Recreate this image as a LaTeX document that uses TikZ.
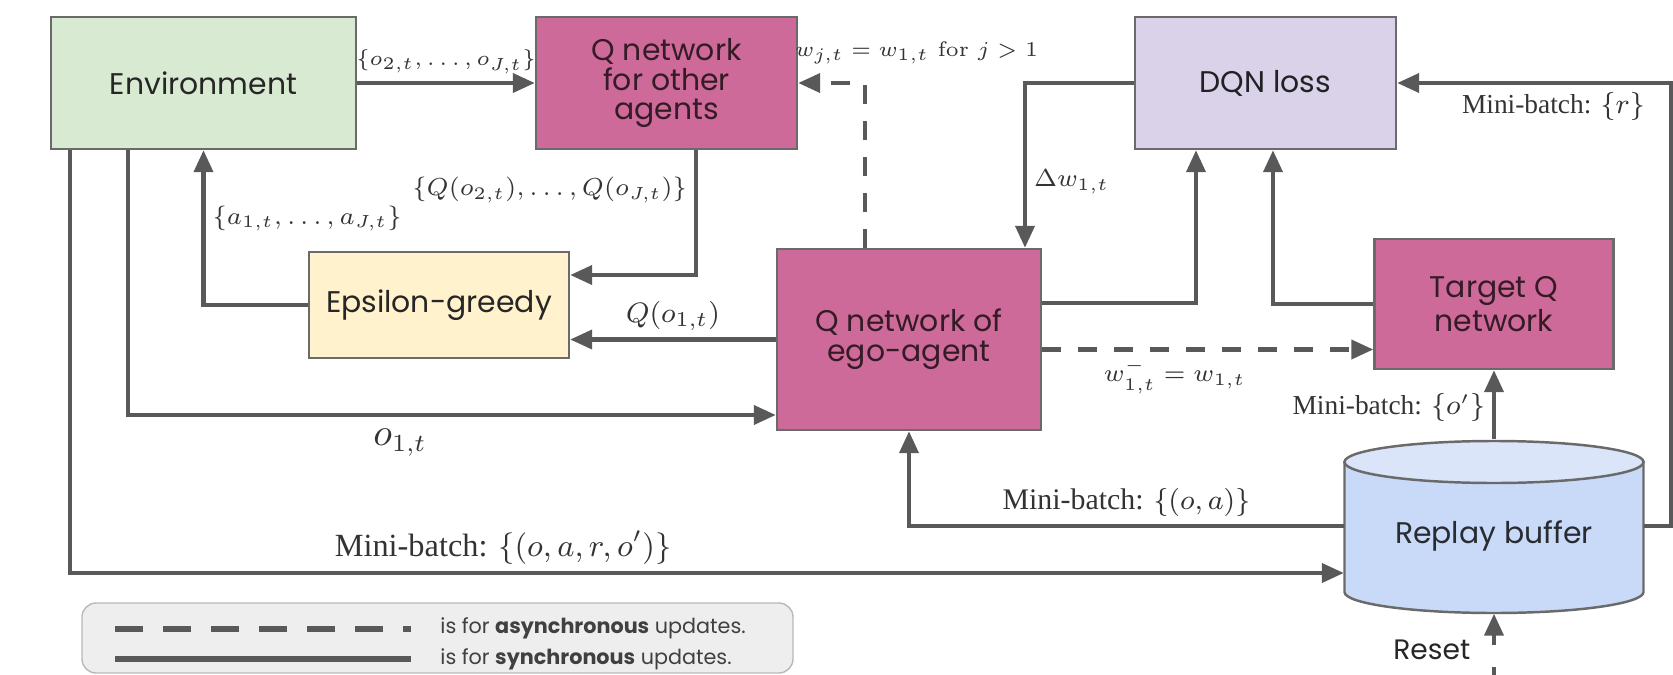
\documentclass[tikz,border=0pt]{standalone}
\usepackage[no-math]{fontspec}
\newfontfamily\boxfont{Poppins}
\newfontfamily\batchfont{Liberation Serif}
\usepackage{xcolor}
\definecolor{dqngreen}{HTML}{D9EAD3}
\definecolor{dqnpink}{HTML}{CE6A99}
\definecolor{dqnlilac}{HTML}{D9D2E9}
\definecolor{dqnyellow}{HTML}{FFF2CC}
\definecolor{dqnblue}{HTML}{C9DAF8}
\definecolor{dqnbluetop}{HTML}{DAE5F9}
\definecolor{dqngray}{HTML}{595959}
\definecolor{dqnlegend}{HTML}{EEEEEE}
\usetikzlibrary{arrows.meta,calc}

\begin{document}
\begin{tikzpicture}[
    block/.style={draw=dqngray!90, line width=0.7pt, align=center,
          font=\boxfont\fontsize{8.5}{8.5}\selectfont, inner sep=2pt},
    link/.style={draw=dqngray, line width=1.15pt,
          -{Triangle[length=2.2mm,width=1.9mm]}},
    async/.style={link, dash pattern=on 1.9mm off 1.7mm},
    lbl/.style={font=\fontsize{7}{9}\selectfont, text=black!80, inner sep=2pt},
    small/.style={lbl, font=\fontsize{6}{8}\selectfont},
    batch/.style={lbl, font=\batchfont\fontsize{7.8}{10}\selectfont}]

  \useasboundingbox (0,0) rectangle (16.73,-6.75);

  %% Top row: environment, other agents, loss
  \node[block, fill=dqngreen, text=black!85,
        minimum width=3.05cm, minimum height=1.32cm]
    (env) at (2.035,-0.83) {Environment};
  \node[block, fill=dqnpink, text=dqnpink!25!black,
        minimum width=2.61cm, minimum height=1.32cm]
    (qother) at (6.665,-0.83) {Q network\\for other\\agents};
  \node[block, fill=dqnlilac, text=dqnlilac!15!black,
        minimum width=2.61cm, minimum height=1.32cm]
    (loss) at (12.655,-0.83) {DQN loss};

  %% Middle row
  \node[block, fill=dqnyellow, text=black!85,
        minimum width=2.60cm, minimum height=1.06cm]
    (greedy) at (4.39,-3.05) {Epsilon-greedy};
  \node[block, fill=dqnpink, text=dqnpink!25!black,
        minimum width=2.64cm, minimum height=1.81cm]
    (ego) at (9.09,-3.395) {Q network of\\ego-agent};
  \node[block, fill=dqnpink, text=dqnpink!25!black,
        minimum width=2.39cm, minimum height=1.30cm]
    (target) at (14.94,-3.04) {Target Q\\network};

  %% Replay buffer (drum)
  \filldraw[fill=dqnblue, draw=dqngray!90, line width=0.7pt]
    (13.445,-4.62) -- (13.445,-5.92)
    arc[start angle=180, end angle=360, x radius=1.495cm, y radius=0.21cm]
    -- (16.435,-4.62) -- cycle;
  \filldraw[fill=dqnbluetop, draw=dqngray!90, line width=0.7pt]
    (14.94,-4.62) ellipse[x radius=1.495cm, y radius=0.21cm];
  \node[font=\boxfont\fontsize{8.5}{8.5}\selectfont, text=dqnblue!20!black,
        minimum width=2.99cm, minimum height=1.48cm, inner sep=0pt]
    (buf) at (14.94,-5.36) {Replay buffer};

  %% Acting loop
  \draw[link] (env.east) -- (qother.west)
    node[midway, above, small] (obsother) {$\{o_{2,t},\ldots,o_{J,t}\}$};
  \draw[link] ([xshift=2.95mm]qother.south) |- ([yshift=3mm]greedy.east)
    node[pos=0.16, left, lbl] (qvother) {$\{Q(o_{2,t}),\ldots,Q(o_{J,t})\}$};
  \draw[link] (ego.west) -- (ego.west -| greedy.east)
    node[midway, above, lbl, font=\fontsize{8}{9}\selectfont]
    (qvego) {$Q(o_{1,t})$};
  \draw[link] (greedy.west) -| (env.south)
    node[pos=0.78, right, lbl] (actions) {$\{a_{1,t},\ldots,a_{J,t}\}$};
  \draw[link] ([xshift=-7.55mm]env.south) |- ([yshift=-7.55mm]ego.west)
    node[pos=0.71, below, yshift=-0.5mm, lbl, font=\fontsize{10.5}{12}\selectfont]
    (obsego) {$o_{1,t}$};
  \draw[link] ([xshift=-13.35mm]env.south) |- ([yshift=-3.7mm]buf.west)
    node[pos=0.67, above, batch, font=\batchfont\fontsize{9.2}{11}\selectfont]
    (batchall) {Mini-batch: $\{(o,a,r,o')\}$};

  %% Weight updates
  \draw[async] ([xshift=-4.4mm]ego.north) |- (qother.east)
    node[pos=0.5, anchor=south, xshift=5.15mm, yshift=1mm, small]
    (share) {$w_{j,t} = w_{1,t}$ for $j>1$};
  \draw[link] (loss.west) -| ([xshift=11.6mm]ego.north)
    node[pos=0.8, right, lbl] (grad) {$\Delta w_{1,t}$};
  \draw[link] ([yshift=3.65mm]ego.east) -| ([xshift=-6.95mm]loss.south);
  \draw[link] (target.west) -| ([xshift=0.75mm]loss.south);
  \draw[async] ([yshift=-1mm]ego.east) -- ([yshift=-1mm]ego.east -| target.west)
    node[pos=0.4, below, lbl] (copy) {$w^{-}_{1,t} = w_{1,t}$};

  %% Sampling from the buffer
  \draw[link] ([yshift=2.2mm]buf.north) -- (target.south)
    node[pos=0.46, left, batch] (batchnext) {Mini-batch: $\{o'\}$};
  \draw[link] ([yshift=1mm]buf.west) -| (ego.south)
    node[pos=0.25, above, batch, font=\batchfont\fontsize{8.5}{10}\selectfont]
    (batchoa) {Mini-batch: $\{(o,a)\}$};
  \draw[link] ([yshift=1mm]buf.east) -- ++(0.27,0) |- (loss.east)
    node[pos=0.715, below, batch] (batchr) {Mini-batch: $\{r\}$};

  %% Reset
  \coordinate (reset) at (14.94,-6.85);
  \draw[link, dash pattern=on 1.8mm off 2.2mm on 10mm off 1mm]
    (reset) -- ([yshift=-0.3mm]buf.south)
    node[pos=0.5, left, xshift=-1mm, font=\boxfont\fontsize{8}{9}\selectfont,
         text=black!85] (resettxt) {Reset};

  %% Legend
  \node[draw=gray!55, fill=dqnlegend, rounded corners=4pt,
        minimum width=7.11cm, minimum height=0.70cm]
    (legend) at (4.375,-6.38) {};
  \draw[dqngray, line width=1.5pt, dash pattern=on 2.8mm off 2mm]
    (1.15,-6.29) -- (4.11,-6.29);
  \draw[dqngray, line width=1.5pt] (1.15,-6.59) -- (4.11,-6.59);
  \node[anchor=west, font=\boxfont\fontsize{5.9}{7}\selectfont, text=black!75]
    (asynctxt) at (4.28,-6.28) {is for \textbf{asynchronous} updates.};
  \node[anchor=west, font=\boxfont\fontsize{5.9}{7}\selectfont, text=black!75]
    (synctxt) at (4.28,-6.59) {is for \textbf{synchronous} updates.};

\end{tikzpicture}
\end{document}
